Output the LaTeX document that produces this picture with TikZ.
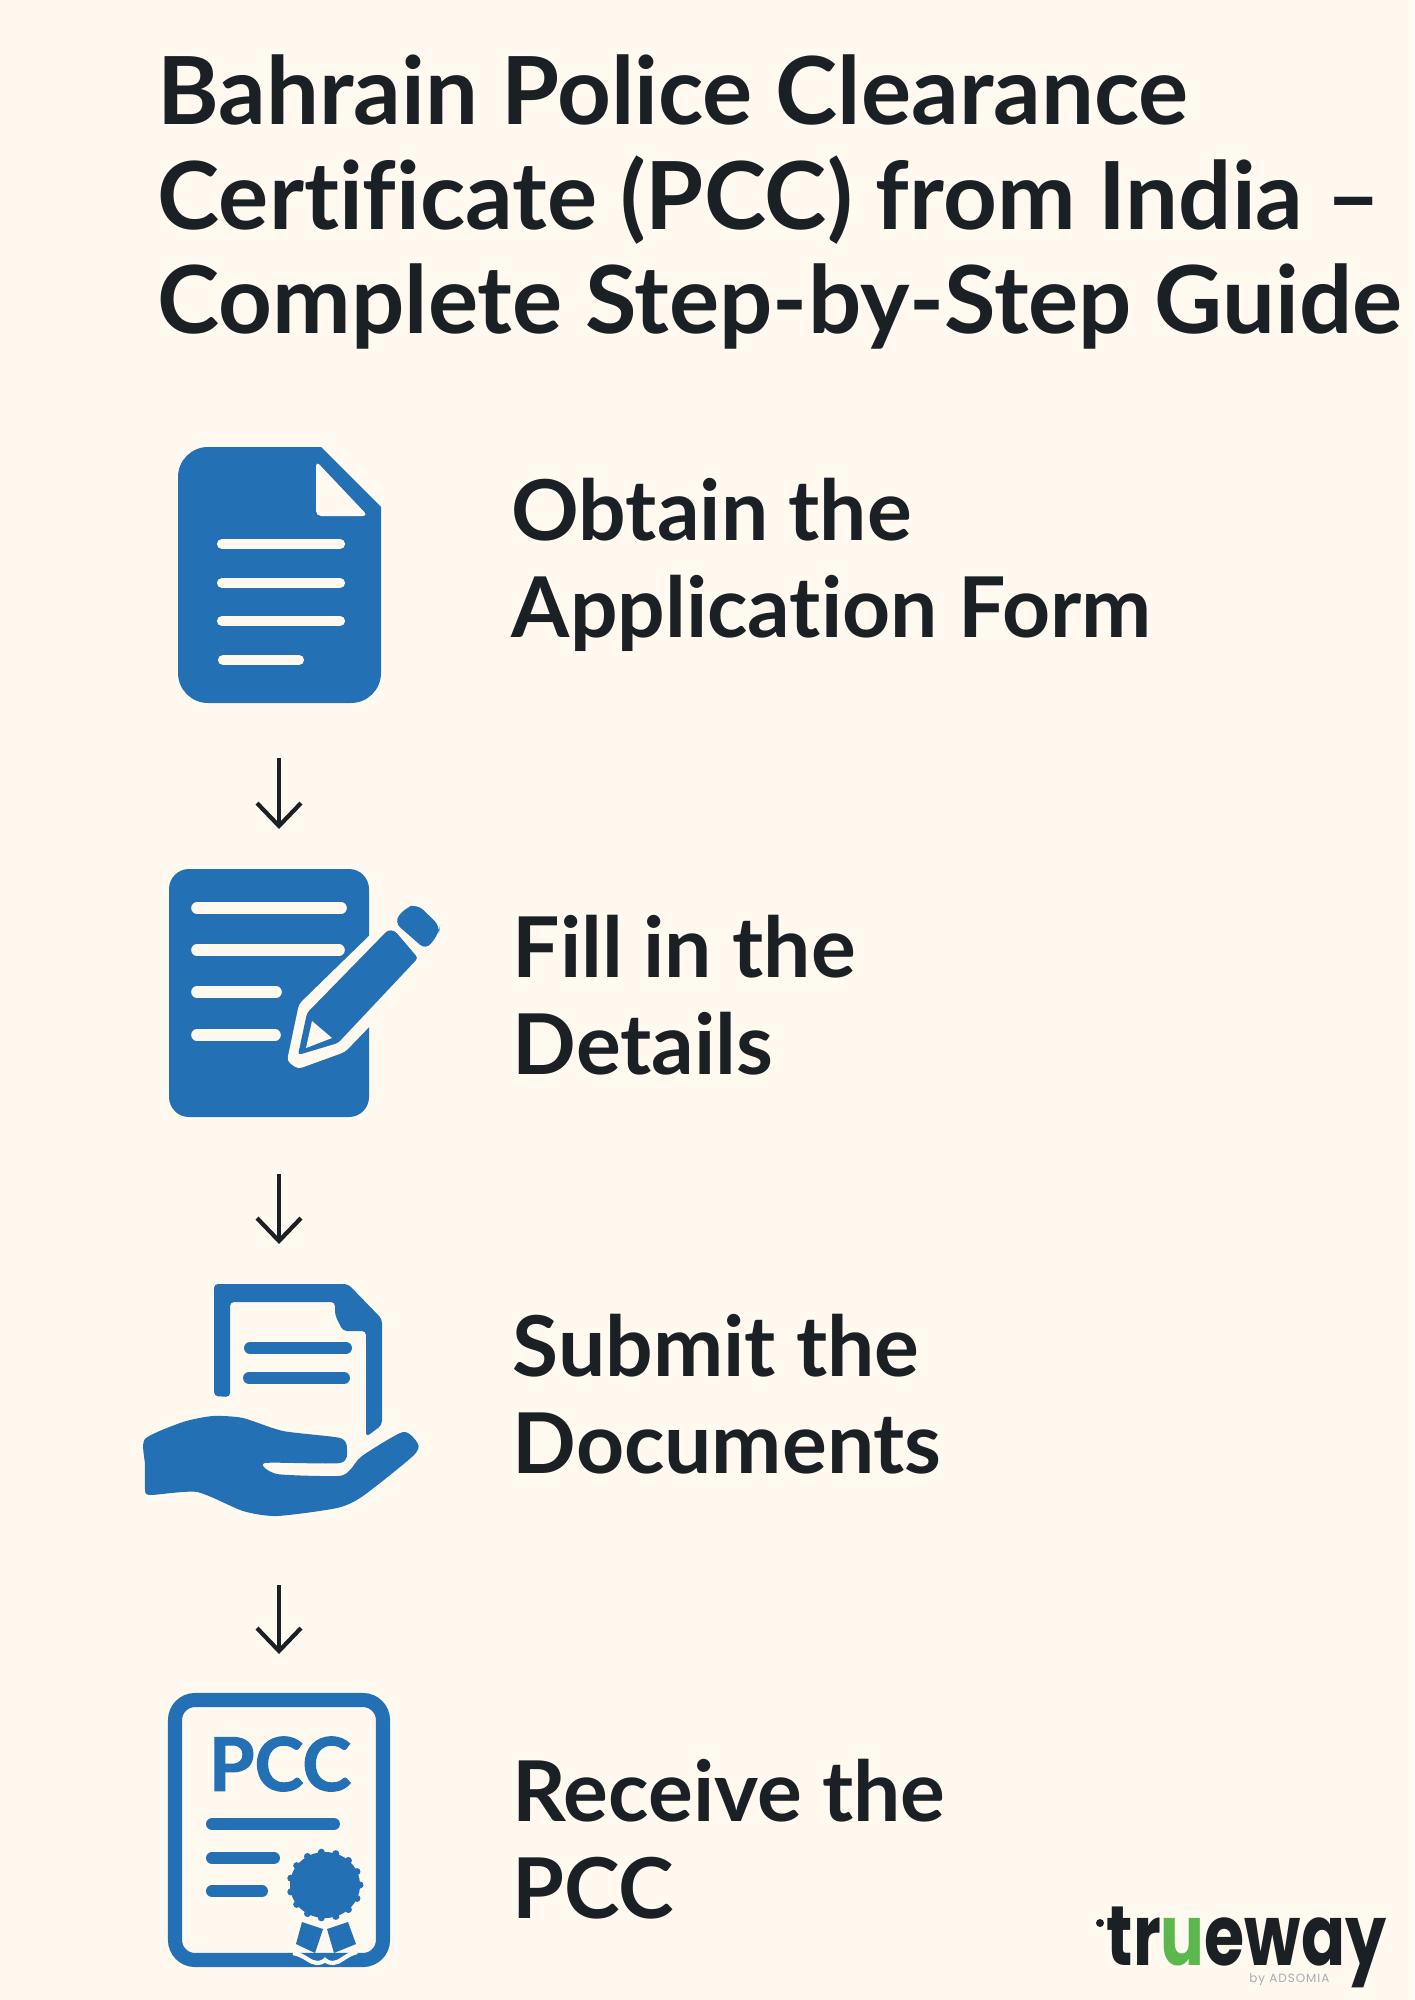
\documentclass[tikz,border=0pt]{standalone}
\usepackage{fontspec}
\setmainfont{Lato}[Ligatures=CommonOff]
\newfontfamily\logofont{Poppins}
\usetikzlibrary{arrows.meta}
\definecolor{bgcream}{HTML}{FFF9F0}
\definecolor{iconblue}{HTML}{2470B4}
\definecolor{inkdark}{HTML}{1B2025}
\definecolor{logogreen}{HTML}{5BB84F}
\definecolor{logogrey}{HTML}{A8ACAF}
\tikzset{
	titletext/.style={anchor=west, align=left, text=inkdark, font=\fontsize{26.7}{29.7}\selectfont\bfseries, inner sep=0pt},
	steptext/.style={anchor=west, align=left, text=inkdark, font=\fontsize{23.85}{27.6}\selectfont\bfseries, inner sep=0pt},
	steparrow/.style={draw=inkdark, line width=1.2pt, -{Straight Barb[length=6.5pt, width=12.5pt]}},
	paperline/.style={draw=bgcream, line width=2.9pt, line cap=round},
	inkline/.style={draw=iconblue, line width=3.4pt, line cap=round}
}
\begin{document}
\begin{tikzpicture}[x=0.01cm, y=-0.01cm]
	\useasboundingbox (0,0) rectangle (1414,2000);
	\fill[bgcream] (0,0) rectangle (1414,2000);

	\node[titletext] (title) at (157,202) {Bahrain Police Clearance\\Certificate (PCC) from India --\\Complete Step-by-Step Guide};
	\node[steptext] (stepa) at (511,565) {Obtain the\\Application Form};
	\node[steptext] (stepb) at (512,995) {Fill in the\\Details};
	\node[steptext] (stepc) at (512,1394) {Submit the\\Documents};
	\node[steptext] (stepd) at (512,1839) {Receive the\\PCC};

	% form
	\fill[iconblue] (321,447) -- (381,507) [rounded corners=0.3cm] -- (381,703) -- (178,703) -- (178,447) [sharp corners] -- cycle;
	\fill[bgcream, rounded corners=0.05cm] (316,461) -- (368,516) -- (316,516) -- cycle;
	\draw[paperline] (222,544) -- (340,544);
	\draw[paperline] (222,583) -- (340,583);
	\draw[paperline] (222,621) -- (340,621);
	\draw[paperline] (223,660) -- (299,660);

	\coordinate (arrowatop) at (279,758);
	\coordinate (arrowatip) at (279,829);
	\draw[steparrow] (arrowatop) -- (arrowatip);

	% sheet and pen
	\fill[iconblue, rounded corners=0.2cm] (169,869) rectangle (369,1117);
	\draw[paperline, line width=3.3pt] (197,908) -- (341,908);
	\draw[paperline, line width=3.3pt] (197,950) -- (339,950);
	\draw[paperline, line width=3.3pt] (197,992) -- (276,992);
	\draw[paperline, line width=3.3pt] (197,1035) -- (275,1035);
	\fill[bgcream, rounded corners=0.04cm] (287,1061) -- (299,1004) -- (372,933) -- (372,1024) -- (345,1052) -- (298,1069) -- cycle;
	\fill[iconblue, rounded corners=0.03cm] (298,1055) -- (307,1013) -- (388,930) -- (395,931) -- (418,958) -- (338,1043) -- cycle;
	\fill[bgcream] (312,1021) -- (332,1038) -- (306,1048) -- cycle;
	\fill[iconblue, rounded corners=0.08cm] (394,922) -- (405,908) -- (417,904) -- (440,926) -- (439,933) -- (426,950) -- cycle;

	\coordinate (arrowbtop) at (279,1174);
	\coordinate (arrowbtip) at (279,1244);
	\draw[steparrow] (arrowbtop) -- (arrowbtip);

	% hand with paper
	\fill[iconblue, rounded corners=0.04cm] (214,1396) -- (214,1284) -- (348,1284) -- (382,1319) -- (382,1425) -- (366,1437) -- (366,1331) -- (343,1331) -- (335,1315) -- (335,1302) -- (230,1302) -- (230,1397) -- cycle;
	\draw[inkline] (250,1348) -- (346,1348);
	\draw[inkline] (249,1378) -- (344,1378);
	\fill[iconblue] plot[smooth cycle, tension=0.4] coordinates {(145,1439) (183,1422) (213,1416) (243,1418) (283,1431) (340,1438) (347,1449) (340,1463) (265,1463) (277,1474) (338,1476) (350,1470) (362,1456) (403,1432) (418,1444) (413,1456) (363,1496) (337,1508) (277,1516) (243,1511) (197,1492) (150,1495) (145,1489) (145,1465)};

	\coordinate (arrowctop) at (279,1585);
	\coordinate (arrowctip) at (279,1654);
	\draw[steparrow] (arrowctop) -- (arrowctip);

	% certificate
	\draw[iconblue, line width=4pt, rounded corners=0.2cm] (175,1700) rectangle (383,1960);
	\node[text=iconblue, font=\fontsize{21}{21}\selectfont\bfseries, inner sep=0pt] (pcclabel) at (280,1764) {\addfontfeature{FakeBold=1.5}PCC};
	\draw[inkline] (212,1824) -- (334,1824);
	\draw[inkline] (212,1858) -- (274,1858);
	\draw[inkline] (212,1891) -- (262,1891);
	\draw[bgcream, line width=1.2pt] (293,1953) .. controls (305,1955) and (310,1963) .. (317,1963) .. controls (322,1963) and (325,1960) .. (325,1960) .. controls (325,1960) and (328,1963) .. (333,1963) .. controls (340,1963) and (345,1955) .. (357,1952);
	\fill[iconblue] (302,1922) -- (323,1929) -- (315,1953) -- (296,1944) -- cycle;
	\fill[iconblue] (327,1929) -- (348,1922) -- (356,1944) -- (334,1953) -- cycle;
	\fill[iconblue] (325,1885) circle [x radius=35, y radius=33];
	\foreach \ang in {0,24,...,336}
		\fill[iconblue] (325,1885) ++(\ang:35 and 33) circle (3.5);

	% logo
	\fill[inkdark] (1100,1923) circle (4);
	\node[anchor=base west, inner sep=0pt, text=inkdark, font=\logofont\fontsize{24}{24}\selectfont\bfseries] (logo) at (1106,1965) {\scalebox{0.77}[1]{tr\textcolor{logogreen}{u}eway}};
	\node[anchor=base east, inner sep=0pt, text=logogrey, font=\logofont\fontsize{3.4}{4}\selectfont] (logoby) at (1330,1982) {\addfontfeature{LetterSpace=8}by ADSOMIA};
\end{tikzpicture}
\end{document}
